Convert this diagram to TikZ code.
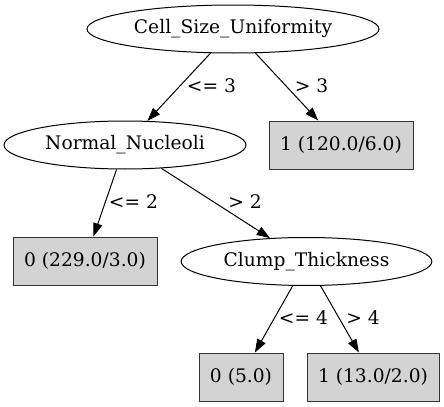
\documentclass[tikz,border=0pt]{standalone}
\usepackage{fontspec}
\setmainfont{DejaVu Serif}
\usetikzlibrary{shapes.geometric,arrows.meta}
\begin{document}
\begin{tikzpicture}[x=0.75pt,y=-0.75pt,line width=0.75pt,font=\fontsize{14}{16}\selectfont,
  					splitnode/.style={shape=ellipse, draw, inner sep=0pt, minimum height=36pt},
  					leafnode/.style={shape=rectangle, draw=black!80, fill={rgb,255:red,211;green,211;blue,211}, inner sep=0pt, minimum height=36pt},
  					edgelabel/.style={inner sep=0pt},
  					edge/.style={-{Triangle[length=10pt,width=7pt]}}
					]
	\useasboundingbox (0,0) rectangle (444,407); %canvas

	%splits-----------------------------------------------
	\node[splitnode,minimum width=219pt] (size) at (233,29) {Cell\_Size\_Uniformity}; %root
	\node[splitnode,minimum width=181.5pt] (nucleoli) at (125,145) {Normal\_Nucleoli}; %level 1
	\node[splitnode,minimum width=188pt] (clump) at (306.5,261.5) {Clump\_Thickness}; %level 2

	%leaves-----------------------------------------------
	\node[leafnode,minimum width=108pt] (leafa) at (341,145) {1 (120.0/6.0)}; %leaf a
	\node[leafnode,minimum width=108pt] (leafb) at (85,261) {0 (229.0/3.0)}; %leaf b
	\node[leafnode,minimum width=63pt] (leafc) at (241,377) {0 (5.0)}; %leaf c
	\node[leafnode,minimum width=99pt] (leafd) at (373,377) {1 (13.0/2.0)}; %leaf d

	%edges-----------------------------------------------
	\draw[edge] (size) -- (nucleoli);
	\draw[edge] (size) -- (leafa);
	\draw[edge] (nucleoli) -- (leafb);
	\draw[edge] (nucleoli) -- (clump);
	\draw[edge] (clump) -- (leafc);
	\draw[edge] (clump) -- (leafd);

	%edge labels
	\node[edgelabel] (lsize1) at (211.5,86) {<= 3}; %size low
	\node[edgelabel] (lsize2) at (311.5,86) {> 3}; %size high
	\node[edgelabel] (lnuc1) at (133.5,202) {<= 2}; %nucleoli low
	\node[edgelabel] (lnuc2) at (245,202) {> 2}; %nucleoli high
	\node[edgelabel] (lclump1) at (303.5,318) {<= 4}; %clump low
	\node[edgelabel] (lclump2) at (363,318) {> 4}; %clump high
\end{tikzpicture}
\end{document}
